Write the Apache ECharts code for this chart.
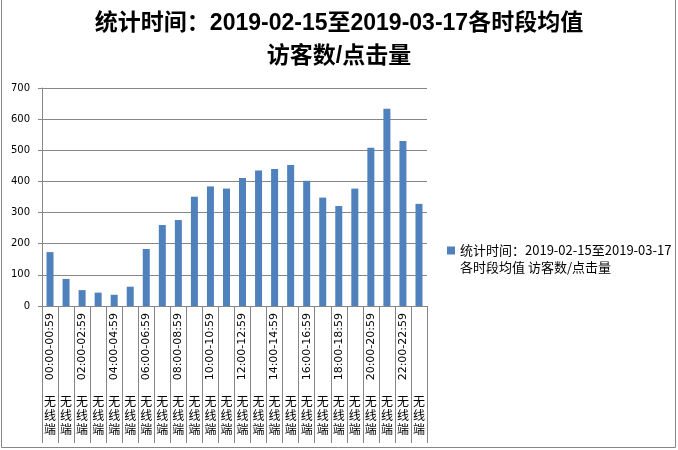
<!DOCTYPE html>
<html>
<head>
<meta charset="utf-8">
<title>各时段均值 访客数/点击量</title>
<script src="https://cdn.jsdelivr.net/npm/echarts@6/dist/echarts.min.js"></script>
<style>
    html, body { margin: 0; padding: 0; background: #fff; }
    #chart { width: 678px; height: 450px; }
</style>
</head>
<body>
<div id="chart"></div>
<script>
'use strict';

var timeSlots = [
    '00:00-00:59', '01:00-01:59', '02:00-02:59', '03:00-03:59', '04:00-04:59', '05:00-05:59',
    '06:00-06:59', '07:00-07:59', '08:00-08:59', '09:00-09:59', '10:00-10:59', '11:00-11:59',
    '12:00-12:59', '13:00-13:59', '14:00-14:59', '15:00-15:59', '16:00-16:59', '17:00-17:59',
    '18:00-18:59', '19:00-19:59', '20:00-20:59', '21:00-21:59', '22:00-22:59', '23:00-23:59'
];
var channels = [
    '无线端', '无线端', '无线端', '无线端', '无线端', '无线端', '无线端', '无线端',
    '无线端', '无线端', '无线端', '无线端', '无线端', '无线端', '无线端', '无线端',
    '无线端', '无线端', '无线端', '无线端', '无线端', '无线端', '无线端', '无线端'
];
var visits = [173, 87, 51, 43, 36, 62, 183, 260, 276, 351, 384, 377,
    411, 435, 440, 453, 402, 348, 321, 377, 508, 633, 530, 328];
var yTicks = [0, 100, 200, 300, 400, 500, 600, 700];

var seriesName = '统计时间：2019-02-15至2019-03-17\n各时段均值 访客数/点击量';
var gridColor = '#868686';
var latinFont = "'DejaVu Sans', 'Noto Sans CJK SC', sans-serif";

var chart = echarts.init(document.getElementById('chart'));
var option = {
    backgroundColor: '#fff',
    animation: false,
    title: {
        text: '统计时间：2019-02-15至2019-03-17各时段均值\n访客数/点击量',
        left: 'center',
        top: 7,
        padding: 0,
        textStyle: {
            fontFamily: "'Liberation Sans', 'Noto Sans CJK SC', sans-serif",
            fontWeight: 'bold',
            fontSize: 23,
            lineHeight: 33,
            color: '#000'
        }
    },
    legend: {
        left: 447,
        top: 242,
        padding: 0,
        itemWidth: 8,
        itemHeight: 25,
        // square sits at the top so it lines up with the first text line
        icon: 'path://M0,0h8v8h-8zM0,25h0.01',
        textStyle: {
            fontFamily: "'Noto Sans CJK SC', sans-serif",
            fontSize: 13,
            lineHeight: 17,
            color: '#000'
        },
        data: [seriesName]
    },
    grid: {
        left: 42,
        right: 251,
        top: 88,
        bottom: 144
    },
    xAxis: [
        {
            type: 'category',
            data: timeSlots,
            boundaryGap: true,
            axisLine: { lineStyle: { color: gridColor } },
            axisTick: {
                show: true,
                interval: 0,
                length: 137,
                lineStyle: { color: gridColor }
            },
            axisLabel: {
                interval: 1,
                rotate: 90,
                margin: 7,
                fontFamily: latinFont,
                fontSize: 11,
                color: '#000'
            }
        },
        {
            type: 'category',
            data: channels,
            position: 'bottom',
            axisLine: { show: false },
            axisTick: { show: false },
            axisLabel: {
                interval: 0,
                margin: 88,
                fontFamily: "'Noto Sans CJK SC', sans-serif",
                fontSize: 12,
                lineHeight: 14,
                color: '#000',
                formatter: function (v) {
                    return v.split('').join('\n');
                }
            }
        }
    ],
    yAxis: {
        type: 'value',
        min: yTicks[0],
        max: yTicks[yTicks.length - 1],
        interval: yTicks[1] - yTicks[0],
        axisLine: { show: true, lineStyle: { color: gridColor } },
        axisTick: { show: true, length: 4, lineStyle: { color: gridColor } },
        splitLine: { lineStyle: { color: gridColor, width: 1 } },
        axisLabel: {
            margin: 12,
            fontFamily: latinFont,
            fontSize: 10,
            color: '#000'
        }
    },
    graphic: [
        {
            type: 'rect',
            shape: { x: 1.5, y: -5, width: 674, height: 452.5 },
            style: { fill: 'none', stroke: gridColor, lineWidth: 1 },
            silent: true
        }
    ],
    series: [
        {
            name: seriesName,
            type: 'bar',
            xAxisIndex: 0,
            barWidth: 7,
            itemStyle: { color: '#4F81BD' },
            data: visits
        }
    ]
};
chart.setOption(option);
</script>
</body>
</html>
